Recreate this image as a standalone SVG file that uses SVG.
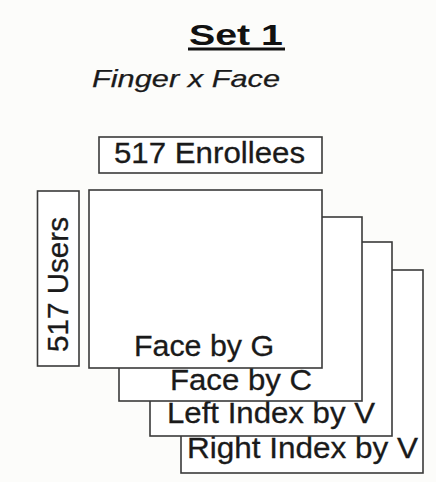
<svg xmlns="http://www.w3.org/2000/svg" width="436" height="482" viewBox="0 0 436 482">
<style>
.bg{fill:#fcfcfa}
.box{fill:#ffffff;stroke:#3a3a3a;stroke-width:1.6}
.t{font-family:"Liberation Sans",Arial,sans-serif;font-size:29.5px;fill:#1a1a1a;stroke:#1a1a1a;stroke-width:0.3}
.title{font-family:"Liberation Sans",Arial,sans-serif;font-size:30px;font-weight:bold;fill:#111}
.sub{font-family:"Liberation Sans",Arial,sans-serif;font-size:24px;font-style:italic;fill:#1a1a1a;stroke:#1a1a1a;stroke-width:0.25}
</style>
<rect class="bg" x="0" y="0" width="436" height="482"/>
<g id="title">
<text class="title" x="189" y="45" textLength="94" lengthAdjust="spacingAndGlyphs">Set 1</text>
<rect x="188" y="47.5" width="97" height="3" fill="#111"/>
</g>
<g id="subtitle">
<text class="sub" x="92" y="87" textLength="188" lengthAdjust="spacingAndGlyphs">Finger x Face</text>
</g>
<g id="enrollees">
<rect class="box" x="99" y="137" width="223" height="36"/>
<text class="t" x="114" y="163" textLength="191" lengthAdjust="spacingAndGlyphs">517 Enrollees</text>
</g>
<g id="users">
<rect class="box" x="37.5" y="191" width="41.5" height="175"/>
<text class="t" transform="translate(68,352) rotate(-90)" x="0" y="0" textLength="135" lengthAdjust="spacingAndGlyphs">517 Users</text>
</g>
<g id="right-index">
<rect class="box" x="181" y="270" width="242" height="203"/>
<text class="t" x="187" y="458" textLength="231" lengthAdjust="spacingAndGlyphs">Right Index by V</text>
</g>
<g id="left-index">
<rect class="box" x="150" y="242" width="242" height="194"/>
<text class="t" x="167" y="423" textLength="208" lengthAdjust="spacingAndGlyphs">Left Index by V</text>
</g>
<g id="face-c">
<rect class="box" x="119" y="217" width="243" height="184"/>
<text class="t" x="170" y="390" textLength="142" lengthAdjust="spacingAndGlyphs">Face by C</text>
</g>
<g id="face-g">
<rect class="box" x="89" y="190" width="233" height="178"/>
<text class="t" x="134" y="356" textLength="140" lengthAdjust="spacingAndGlyphs">Face by G</text>
</g>
<g id="connectors"></g>
</svg>
